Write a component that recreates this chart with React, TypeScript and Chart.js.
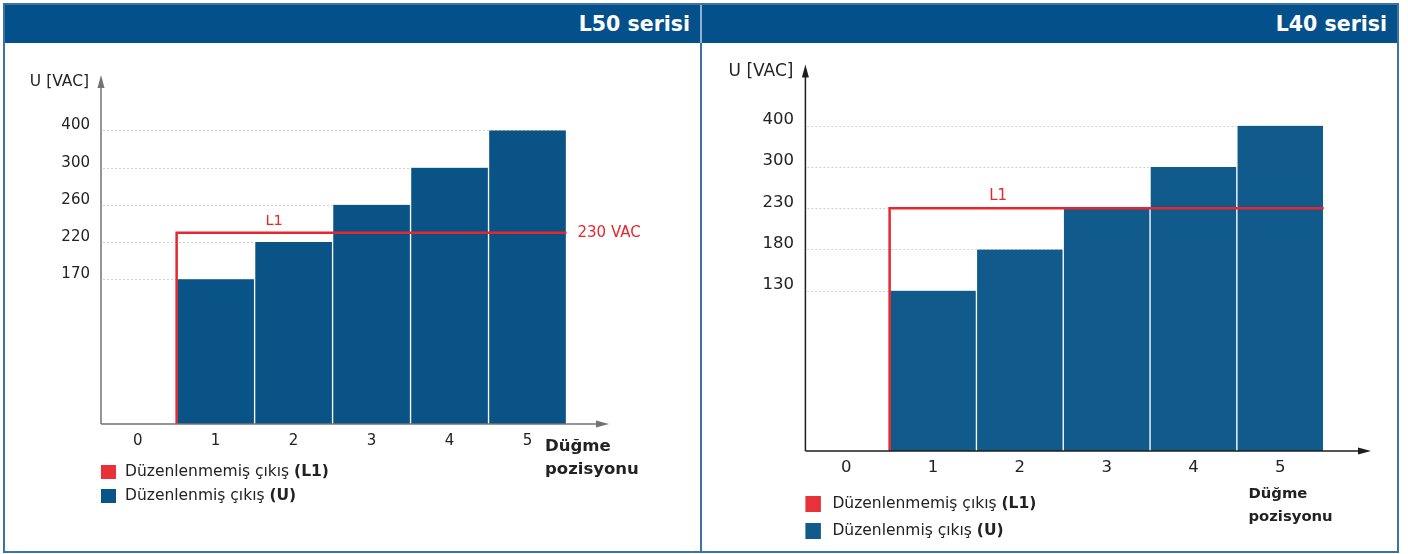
import React, { useEffect, useRef } from "react";
import { Chart, registerables } from "chart.js";

Chart.register(...registerables);

// ---------- data ----------
const xTickLabels = [0, 1, 2, 3, 4, 5];
const barPositions = [1, 2, 3, 4, 5];

const l50Title = "L50 serisi";
const l50Values = [170, 220, 260, 300, 400];
const l50TickLabels = [170, 220, 260, 300, 400];
const l50L1 = 230;
const l50LineLabel = "230 VAC";

const l40Title = "L40 serisi";
const l40Values = [130, 180, 230, 300, 400];
const l40TickLabels = [130, 180, 230, 300, 400];
const l40L1 = 230;
const l40LineLabel = "";

const l1Span = [0.5, 5.5];
const yTitle = "U [VAC]";
const xTitle = ["Düğme", "pozisyonu"];
const legendRows = [
  { text: "Düzenlenmemiş çıkış ", bold: "(L1)", key: "red" },
  { text: "Düzenlenmiş çıkış ", bold: "(U)", key: "blue" },
];

// Axis is drawn in "levels": ticks sit on equally spaced levels
const LEVEL0 = 3.89;
const Y_MAX = 9.38;
const X_MIN = -0.47;
const X_MAX = 6.045;

function toLevel(v: number, ticks: number[]): number {
  if (v <= ticks[0]) return (v / ticks[0]) * LEVEL0;
  for (let k = 1; k < ticks.length; k++) {
    if (v <= ticks[k]) {
      return LEVEL0 + k - 1 + (v - ticks[k - 1]) / (ticks[k] - ticks[k - 1]);
    }
  }
  const n = ticks.length;
  return LEVEL0 + n - 1 + (v - ticks[n - 1]) / (ticks[n - 1] - ticks[n - 2]);
}

const FONT = "'DejaVu Sans', sans-serif";

const decorPlugin = {
  id: "decor",
  beforeDatasetsDraw(chart: any, _args: any, o: any) {
    const { ctx, chartArea, scales } = chart;
    const x = scales.x;
    const y = scales.y;
    ctx.save();
    ctx.strokeStyle = "#cfcfcf";
    ctx.lineWidth = 1;
    ctx.setLineDash([2, 2]);
    const xEnd = x.getPixelForValue(l1Span[1]);
    for (const lv of o.gridLevels) {
      const py = Math.round(y.getPixelForValue(lv)) + 0.5;
      ctx.beginPath();
      ctx.moveTo(chartArea.left + 2, py);
      ctx.lineTo(xEnd, py);
      ctx.stroke();
    }
    ctx.restore();
  },
  afterDatasetsDraw(chart: any, _args: any, o: any) {
    const { ctx, chartArea, scales } = chart;
    const x = scales.x;
    const y = scales.y;
    const x0 = chartArea.left;
    const yb = chartArea.bottom;
    const yt = chartArea.top;
    const xr = chartArea.right;
    ctx.save();
    // axes
    ctx.strokeStyle = o.axisColor;
    ctx.fillStyle = o.axisColor;
    ctx.lineWidth = 1.5;
    ctx.setLineDash([]);
    ctx.beginPath();
    ctx.moveTo(x0, yb);
    ctx.lineTo(x0, yt + 8);
    ctx.moveTo(x0, yb);
    ctx.lineTo(xr - 8, yb);
    ctx.stroke();
    ctx.beginPath();
    ctx.moveTo(x0, yt);
    ctx.lineTo(x0 - 3.5, yt + 13);
    ctx.lineTo(x0 + 3.5, yt + 13);
    ctx.closePath();
    ctx.fill();
    ctx.beginPath();
    ctx.moveTo(xr, yb);
    ctx.lineTo(xr - 13, yb - 3.5);
    ctx.lineTo(xr - 13, yb + 3.5);
    ctx.closePath();
    ctx.fill();

    // y title
    ctx.fillStyle = "#222";
    ctx.font = `${o.yTitleSize}px ${FONT}`;
    ctx.textAlign = "right";
    ctx.textBaseline = "middle";
    ctx.fillText(yTitle, x0 - 12, yt + 7);

    // x title
    ctx.font = `bold ${o.xTitleSize}px ${FONT}`;
    ctx.textAlign = "left";
    ctx.fillText(xTitle[0], xr - o.xTitleDx, yb + o.xTitleDy[0]);
    ctx.fillText(xTitle[1], xr - o.xTitleDx, yb + o.xTitleDy[1]);

    // L1 labels
    const ly = y.getPixelForValue(o.l1Level);
    ctx.fillStyle = "#e8262e";
    ctx.font = `${o.l1Size}px ${FONT}`;
    ctx.textAlign = "center";
    ctx.fillText("L1", x.getPixelForValue(1.75), ly - 12);
    if (o.lineLabel) {
      ctx.textAlign = "left";
      ctx.font = `${o.lineLabelSize}px ${FONT}`;
      ctx.fillText(o.lineLabel, x.getPixelForValue(l1Span[1]) + 11, ly);
    }

    // legend
    legendRows.forEach((row, i) => {
      const top = yb + o.legendTop[i];
      ctx.fillStyle = row.key === "red" ? "#e8323a" : o.barColor;
      ctx.fillRect(x0, top, o.legendBox[0], o.legendBox[1]);
      ctx.fillStyle = "#222";
      ctx.textAlign = "left";
      ctx.textBaseline = "middle";
      ctx.font = `${o.legendSize}px ${FONT}`;
      const tx = x0 + o.legendTextDx;
      const cy = top + o.legendBox[1] / 2;
      ctx.fillText(row.text, tx, cy);
      const w = ctx.measureText(row.text).width;
      ctx.font = `bold ${o.legendSize}px ${FONT}`;
      ctx.fillText(row.bold, tx + w, cy);
    });
    ctx.restore();
  },
};

type PanelCfg = {
  values: number[];
  tickLabels: number[];
  l1: number;
  lineLabel: string;
  barColor: string;
  axisColor: string;
  padding: { left: number; right: number; top: number; bottom: number };
  tickSize: number;
  yTickPad: number;
  yLabelOffset: number;
  xTickPad: number;
  yTitleSize: number;
  xTitleSize: number;
  xTitleDx: number;
  xTitleDy: number[];
  l1Size: number;
  lineLabelSize: number;
  legendTop: number[];
  legendBox: number[];
  legendTextDx: number;
  legendSize: number;
};

function PanelChart({ cfg }: { cfg: PanelCfg }) {
  const ref = useRef<HTMLCanvasElement>(null);
  useEffect(() => {
    const levels = cfg.tickLabels.map((t) => toLevel(t, cfg.tickLabels));
    const l1Level = toLevel(cfg.l1, cfg.tickLabels);
    const chart = new Chart(ref.current as HTMLCanvasElement, {
      type: "bar",
      data: {
        datasets: [
          {
            type: "line",
            label: "L1",
            data: [
              { x: l1Span[0], y: 0 },
              { x: l1Span[0], y: l1Level },
              { x: l1Span[1], y: l1Level },
            ],
            borderColor: "#e8262e",
            borderWidth: 2.5,
            pointRadius: 0,
            fill: false,
            tension: 0,
            borderJoinStyle: "miter",
            borderCapStyle: "butt",
          } as any,
          {
            type: "bar",
            label: "U",
            data: barPositions.map((p, i) => ({ x: p, y: toLevel(cfg.values[i], cfg.tickLabels) })),
            backgroundColor: cfg.barColor,
            borderColor: "#ffffff",
            borderWidth: { left: 1, right: 1, top: 0, bottom: 0 },
            borderSkipped: false,
            categoryPercentage: 1,
            barPercentage: 1,
          } as any,
        ],
      },
      options: {
        animation: false,
        responsive: false,
        devicePixelRatio: 1,
        events: [],
        layout: { padding: cfg.padding },
        plugins: {
          legend: { display: false },
          tooltip: { enabled: false },
          decor: {
            gridLevels: levels,
            l1Level,
            lineLabel: cfg.lineLabel,
            axisColor: cfg.axisColor,
            barColor: cfg.barColor,
            yTitleSize: cfg.yTitleSize,
            xTitleSize: cfg.xTitleSize,
            xTitleDx: cfg.xTitleDx,
            xTitleDy: cfg.xTitleDy,
            l1Size: cfg.l1Size,
            lineLabelSize: cfg.lineLabelSize,
            legendTop: cfg.legendTop,
            legendBox: cfg.legendBox,
            legendTextDx: cfg.legendTextDx,
            legendSize: cfg.legendSize,
          },
        } as any,
        scales: {
          x: {
            type: "linear",
            min: X_MIN,
            max: X_MAX,
            offset: false,
            grid: { display: false, drawTicks: false, offset: false },
            border: { display: false },
            afterBuildTicks: (s: any) => {
              s.ticks = xTickLabels.map((v) => ({ value: v }));
            },
            afterFit: (s: any) => {
              s.height = 30;
            },
            ticks: {
              autoSkip: false,
              maxRotation: 0,
              padding: cfg.xTickPad,
              color: "#222",
              font: { family: FONT, size: cfg.tickSize },
              callback: (v: any) => String(v),
            },
          },
          y: {
            type: "linear",
            min: 0,
            max: Y_MAX,
            grid: { display: false, drawTicks: false },
            border: { display: false },
            afterBuildTicks: (s: any) => {
              s.ticks = levels.map((v) => ({ value: v }));
            },
            afterFit: (s: any) => {
              s.width = 50;
            },
            ticks: {
              autoSkip: false,
              padding: cfg.yTickPad,
              labelOffset: cfg.yLabelOffset,
              color: "#222",
              font: { family: FONT, size: cfg.tickSize },
              callback: (_v: any, i: number) => String(cfg.tickLabels[i]),
            },
          },
        },
      } as any,
      plugins: [decorPlugin as any],
    });
    return () => chart.destroy();
  }, []);
  return <canvas ref={ref} width={695} height={508} style={{ display: "block", width: 695, height: 508 }} />;
}

const leftCfg: PanelCfg = {
  values: l50Values,
  tickLabels: l50TickLabels,
  l1: l50L1,
  lineLabel: l50LineLabel,
  barColor: "#0a5387",
  axisColor: "#737373",
  padding: { left: 46, right: 91, top: 32, bottom: 97 },
  tickSize: 15,
  yTickPad: 11,
  yLabelOffset: -5,
  xTickPad: 8,
  yTitleSize: 15.5,
  xTitleSize: 16.5,
  xTitleDx: 64,
  xTitleDy: [23, 46],
  l1Size: 14.5,
  lineLabelSize: 15,
  legendTop: [41, 65],
  legendBox: [15, 14],
  legendTextDx: 24,
  legendSize: 15.5,
};

const rightCfg: PanelCfg = {
  values: l40Values,
  tickLabels: l40TickLabels,
  l1: l40L1,
  lineLabel: l40LineLabel,
  barColor: "#115b8c",
  axisColor: "#1e1e1e",
  padding: { left: 53.4, right: 26, top: 20, bottom: 70 },
  tickSize: 16.5,
  yTickPad: 11.5,
  yLabelOffset: -6,
  xTickPad: 7,
  yTitleSize: 17,
  xTitleSize: 14.8,
  xTitleDx: 122.5,
  xTitleDy: [43, 66],
  l1Size: 15,
  lineLabelSize: 15,
  legendTop: [45, 72],
  legendBox: [15.5, 16],
  legendTextDx: 27,
  legendSize: 15.5,
};

const HEADER_BG = "#03508a";
const BORDER = "#3b73a5";

function Header({ title }: { title: string }) {
  return (
    <div
      style={{
        height: 38,
        background: HEADER_BG,
        color: "#fff",
        fontFamily: FONT,
        fontWeight: "bold",
        fontSize: 20.5,
        display: "flex",
        alignItems: "center",
        justifyContent: "flex-end",
        paddingRight: 10,
        boxSizing: "border-box",
      }}
    >
      {title}
    </div>
  );
}

export default function App() {
  return (
    <div
      style={{
        position: "absolute",
        left: 3,
        top: 3,
        width: 1396,
        height: 550,
        border: `2px solid ${BORDER}`,
        boxSizing: "border-box",
        background: "#fff",
        display: "flex",
      }}
    >
      <div style={{ width: 695, height: 546 }}>
        <Header title={l50Title} />
        <PanelChart cfg={leftCfg} />
      </div>
      <div style={{ width: 2, height: 546, display: "flex", flexDirection: "column" }}>
        <div style={{ height: 38, background: "#8fb0cf" }} />
        <div style={{ flex: 1, background: BORDER }} />
      </div>
      <div style={{ width: 695, height: 546 }}>
        <Header title={l40Title} />
        <PanelChart cfg={rightCfg} />
      </div>
    </div>
  );
}
